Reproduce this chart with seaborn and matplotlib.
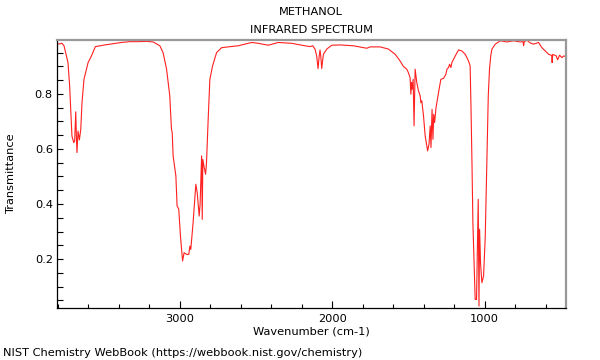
import matplotlib
matplotlib.use("Agg")
import matplotlib.pyplot as plt
from matplotlib.ticker import MultipleLocator
import seaborn as sns
import pandas as pd

title_lines = ["METHANOL", "INFRARED SPECTRUM"]
x_label = "Wavenumber (cm-1)"
y_label = "Transmittance"
footer = "NIST Chemistry WebBook (https://webbook.nist.gov/chemistry)"

wavenumber = [
    3806, 3790, 3773, 3760, 3744, 3734, 3723, 3716, 3708, 3696, 3690, 3685, 3683, 3679,
    3675, 3668, 3659, 3650, 3642, 3629, 3602, 3580, 3554, 3493, 3383, 3330, 3276, 3220,
    3175, 3131, 3110, 3087, 3066, 3055, 3050, 3044, 3026, 3018, 3007, 2996, 2982, 2972,
    2956, 2941, 2934, 2928, 2913, 2895, 2886, 2873, 2867, 2857, 2853, 2849, 2840, 2831,
    2825, 2814, 2803, 2785, 2759, 2726, 2683, 2617, 2529, 2486, 2420, 2354, 2266, 2200,
    2146, 2128, 2113, 2102, 2093, 2086, 2080, 2074, 2069, 2058, 2036, 2003, 1949, 1861,
    1773, 1752, 1686, 1631, 1587, 1555, 1533, 1511, 1500, 1489, 1484, 1480, 1476, 1469,
    1463, 1456, 1445, 1434, 1423, 1418, 1412, 1401, 1390, 1379, 1374, 1365, 1357, 1352,
    1345, 1339, 1334, 1328, 1319, 1308, 1295, 1287, 1269, 1254, 1247, 1237, 1230, 1221,
    1215, 1204, 1187, 1171, 1149, 1127, 1106, 1095, 1090, 1083, 1077, 1068, 1062, 1053,
    1046, 1042, 1037, 1033, 1027, 1018, 1007, 996, 991, 982, 976, 968, 960, 952, 930,
    897, 854, 810, 766, 748, 744, 740, 722, 700, 678, 646, 624, 602, 580, 560, 557, 553,
    530, 521, 508, 493, 482, 466,
]
transmittance = [
    0.981, 0.982, 0.984, 0.975, 0.938, 0.914, 0.829, 0.745, 0.647, 0.623, 0.629, 0.700, 0.735, 0.650,
    0.587, 0.665, 0.633, 0.672, 0.768, 0.853, 0.914, 0.938, 0.972, 0.978, 0.987, 0.990, 0.990, 0.991,
    0.989, 0.975, 0.950, 0.890, 0.793, 0.672, 0.659, 0.575, 0.502, 0.393, 0.381, 0.284, 0.193, 0.223,
    0.217, 0.217, 0.247, 0.235, 0.332, 0.472, 0.441, 0.356, 0.399, 0.575, 0.344, 0.562, 0.532, 0.508,
    0.550, 0.708, 0.853, 0.902, 0.950, 0.968, 0.971, 0.975, 0.987, 0.984, 0.977, 0.987, 0.984, 0.977,
    0.972, 0.975, 0.963, 0.938, 0.892, 0.935, 0.960, 0.930, 0.892, 0.944, 0.963, 0.977, 0.978, 0.975,
    0.966, 0.971, 0.971, 0.963, 0.944, 0.920, 0.900, 0.890, 0.877, 0.859, 0.799, 0.841, 0.817, 0.853,
    0.684, 0.890, 0.841, 0.811, 0.793, 0.768, 0.775, 0.720, 0.647, 0.611, 0.593, 0.617, 0.684, 0.605,
    0.744, 0.635, 0.726, 0.696, 0.750, 0.787, 0.829, 0.853, 0.857, 0.872, 0.890, 0.896, 0.908, 0.896,
    0.914, 0.926, 0.944, 0.960, 0.956, 0.944, 0.920, 0.902, 0.768, 0.550, 0.332, 0.162, 0.053, 0.053,
    0.284, 0.417, 0.029, 0.308, 0.187, 0.114, 0.138, 0.280, 0.405, 0.647, 0.793, 0.890, 0.938, 0.963, 0.981,
    0.993, 0.989, 0.993, 0.989, 0.990, 0.975, 0.990, 0.995, 0.985, 0.981, 0.987, 0.968, 0.956, 0.944, 0.940, 0.914, 0.944,
    0.938, 0.924, 0.941, 0.932, 0.938, 0.936,
]

df = pd.DataFrame({"wavenumber": wavenumber, "transmittance": transmittance})

sns.set_style("white")
plt.rcParams["font.family"] = ["DejaVu Sans"]
plt.rcParams["text.color"] = "black"

fig = plt.figure(figsize=(6, 3.6), dpi=100)
ax = fig.add_axes([57 / 600, 1 - 308 / 360, (566 - 57) / 600, (308 - 40) / 360])

sns.lineplot(data=df, x="wavenumber", y="transmittance", sort=False, estimator=None,
             color="#ff2020", linewidth=0.8, ax=ax)

ax.set_xlim(3806, 466)
ax.set_ylim(0.022, 0.996)

ax.xaxis.set_major_locator(MultipleLocator(1000))
ax.xaxis.set_minor_locator(MultipleLocator(200))
ax.yaxis.set_major_locator(MultipleLocator(0.2))
ax.yaxis.set_minor_locator(MultipleLocator(0.05))
ax.set_yticks([0.2, 0.4, 0.6, 0.8])

fs = 8.2
ax.tick_params(axis="both", which="both", direction="in", labelsize=fs, colors="black",
               bottom=True, left=True, top=False, right=False)
ax.tick_params(axis="x", which="major", length=5, width=0.8, pad=4)
ax.tick_params(axis="x", which="minor", length=3, width=0.8)
ax.tick_params(axis="y", which="major", length=4, width=0.8, pad=3)
ax.tick_params(axis="y", which="minor", length=4, width=0.8)

for side in ["top", "right"]:
    ax.spines[side].set_color("#999999")
    ax.spines[side].set_linewidth(1.6)
for side in ["left", "bottom"]:
    ax.spines[side].set_color("black")
    ax.spines[side].set_linewidth(0.9)

ax.set_xlabel("")
ax.set_ylabel("")

fig.text(311 / 600, 1 - 12 / 360, title_lines[0], ha="center", va="center", fontsize=fs, color="black")
fig.text(311 / 600, 1 - 30 / 360, title_lines[1], ha="center", va="center", fontsize=fs, color="black")
fig.text(311 / 600, 1 - 332 / 360, x_label, ha="center", va="center", fontsize=fs, color="black")
fig.text(11 / 600, 1 - 174 / 360, y_label, ha="center", va="center", rotation=90, fontsize=fs, color="black")
fig.text(3 / 600, 1 - 353 / 360, footer, ha="left", va="center", fontsize=fs, color="black")

fig.savefig("out.png", dpi=100)
